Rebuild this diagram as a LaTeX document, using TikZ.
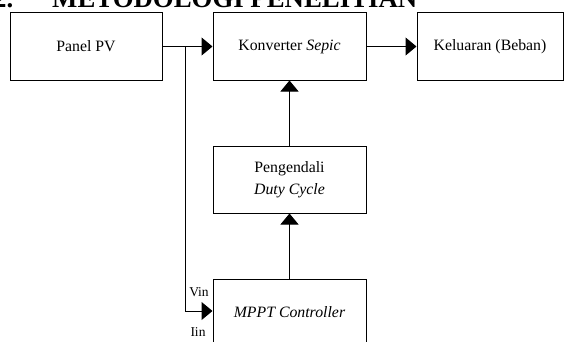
\documentclass[tikz,border=0pt]{standalone}
\usepackage{fontspec}
\setmainfont{Liberation Serif}
\usetikzlibrary{arrows.meta}
\begin{document}
\begin{tikzpicture}[x=1pt,y=1pt,
  blk/.style={draw=black,line width=1pt,minimum height=67pt,inner sep=0pt,
    font=\fontsize{15.8}{22}\selectfont,align=center},
  conn/.style={line width=1pt,-{Triangle[length=11pt,width=18pt]}},
  wire/.style={line width=1pt},
  lbl/.style={font=\fontsize{13.5}{15}\selectfont,inner sep=0pt}]
\useasboundingbox (0,0) rectangle (565,341);
\clip (0,0) rectangle (565,341);
\node[font=\fontsize{26.8}{30}\bfseries,anchor=base east,inner sep=0pt] (num) at (13.5,334) {2.};
\node[font=\fontsize{26.8}{30}\bfseries,anchor=base west,inner sep=0pt] (title) at (52,334) {METODOLOGI PENELITIAN};
\node[blk,minimum width=152pt] (pv) at (86,294.5) {Panel PV};
\node[blk,minimum width=153pt] (konv) at (289.5,294.5) {Konverter \textit{Sepic}};
\node[blk,minimum width=146pt] (out) at (490,294.5) {Keluaran (Beban)};
\node[blk,minimum width=153pt] (duty) at (289.5,161.5) {Pengendali\\\textit{Duty Cycle}};
\node[blk,minimum width=153pt] (mppt) at (289.5,28.5) {\textit{MPPT Controller}};
\coordinate (j) at (185,294.5);
\coordinate (c) at (185,30);
\draw[conn] (pv.east) -- (konv.west);
\draw[conn] (konv.east) -- (out.west);
\draw[conn] (duty.north) -- (konv.south);
\draw[conn] (mppt.north) -- (duty.south);
\draw[wire] (j) -- (c);
\draw[conn] (c) -- (c -| mppt.west);
\node[lbl] (vin) at (199,49) {Vin};
\node[lbl] (iin) at (198,9) {Iin};
\end{tikzpicture}
\end{document}
